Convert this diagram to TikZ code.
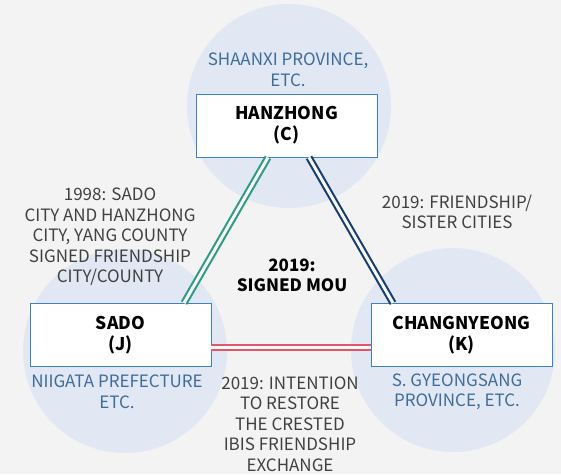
\documentclass[tikz,border=0pt]{standalone}
\usepackage{fontspec}
\setmainfont{Noto Sans CJK KR}
\usetikzlibrary{calc}
\definecolor{bggray}{HTML}{F3F3F3}
\definecolor{circblue}{HTML}{E1E7F3}
\definecolor{boxblue}{HTML}{3C82C8}
\definecolor{labelblue}{HTML}{3F6C9C}
\definecolor{notegray}{HTML}{404040}
\definecolor{linegreen}{HTML}{2E9B82}
\definecolor{linenavy}{HTML}{163D72}
\definecolor{linered}{HTML}{E2566C}

\begin{document}
\begin{tikzpicture}
[x=1pt,y=-1pt,
region/.style={circle,fill=circblue,minimum size=204pt,inner sep=0pt},
city/.style={draw=boxblue,line width=0.9pt,fill=white,minimum width=181pt,minimum height=63pt,inner sep=0pt,align=center,font=\fontsize{17.5}{21}\selectfont\bfseries},
place/.style={text=labelblue,align=center,inner sep=0pt,font=\fontsize{17}{20.5}\selectfont},
note/.style={text=notegray,align=center,inner sep=0pt,font=\fontsize{17}{20.5}\selectfont},
tie/.style={line width=2.1pt,double=bggray!40!white,double distance=3pt},]

%Background
\useasboundingbox (0,0) rectangle (561,474);
\fill[bggray] (0,0) rectangle (561,474);

%Circles
\node (shaanxi) at (289,106)[region] {};
\node (niigata) at (125,351)[region] {};
\node (gyeongnam) at (453,350)[region] {};

%Cities
\node (hanzhong) at (286.5,125.5)[city] {HANZHONG\\(C)};
\node (sado) at (120.5,335)[city] {SADO\\(J)};
\node (changnyeong) at (461.5,335)[city] {CHANGNYEONG\\(K)};

%Links
\draw[tie,linegreen] ([xshift=63.5pt]sado.north) -- ([xshift=-18.5pt]hanzhong.south);
\draw[tie,linenavy] ([xshift=22.5pt]hanzhong.south) -- ([xshift=-68.5pt]changnyeong.north);
\draw[tie,linered] ([yshift=-12.5pt]sado.east) -- ([yshift=-12.5pt]changnyeong.west);

%Regions
\node (shaanxitext) at (288,70)[place] {SHAANXI PROVINCE,\\ETC.};
\node (niigatatext) at (117,392)[place] {NIIGATA PREFECTURE\\ETC.};
\node (gyeongnamtext) at (457,392)[place] {S. GYEONGSANG\\PROVINCE, ETC.};

%Notes
\node (sadohan) at (110,237)[note] {1998: SADO\\CITY AND HANZHONG\\CITY, YANG COUNTY\\SIGNED FRIENDSHIP\\CITY/COUNTY};
\node (hanchang) at (457,212)[note] {2019: FRIENDSHIP/\\SISTER CITIES};
\node (sadochang) at (290,424)[note] {2019: INTENTION\\TO RESTORE\\THE CRESTED\\IBIS FRIENDSHIP\\EXCHANGE};
\node (mou) at (292,275)[note,text=black,font=\fontsize{17}{20}\selectfont\bfseries] {2019:\\SIGNED MOU};

\end{tikzpicture}
\end{document}
